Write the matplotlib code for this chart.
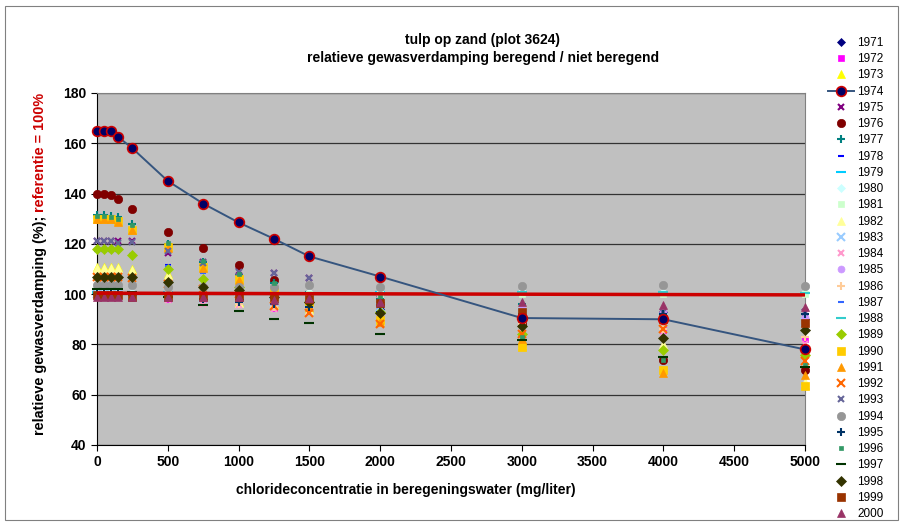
import matplotlib.pyplot as plt
import matplotlib.patches as patch

plt.rcParams['font.family'] = ['Liberation Sans', 'DejaVu Sans']

#------ Data ------------------------------------------------------------------
conc = [0, 50, 100, 150, 250, 500, 750, 1000, 1250, 1500, 2000, 3000, 4000, 5000]

y1971 = [100, 100, 100, 100, 99.5, 99, 98, 98, 97, 96, 94, 91, 93, 90]
y1972 = [99.6, 99.6, 99.6, 99.6, 99, 98, 98, 97, 94.4, 94, 92, 89.2, 85.7, 82]
y1973 = [110.7, 110.7, 110.7, 110.7, 110, 108, 104, 97, 96, 94, 90, 79.5, 79, 64]
y1974 = [165, 165, 165, 162.5, 158, 145, 136, 128.5, 122, 115, 107, 90.5, 90, 78]
y1975 = [121, 121, 121, 121, 121, 116.5, 112.7, 109.2, 108.4, 106.4, 98, 90, 92, 93]
y1976 = [140, 140, 139.5, 138, 134, 124.7, 118.3, 111.5, 105.6, 97, 96, 88, 74, 70]
y1977 = [131.5, 131.5, 131, 130.5, 128, 120, 112.7, 107.6, 104.5, 101, 98, 96, 92, 90]
y1978 = [117, 117, 117, 117, 116, 111.5, 108.8, 106, 102, 99, 94, 89, 90, 100.4]
y1979 = [101, 101, 101, 101, 101, 101, 100.5, 100.5, 100.5, 100.5, 101, 101, 101, 100.6]
y1980 = [101.2, 101.2, 101.2, 101.2, 101, 101, 101, 101, 101, 101, 101, 101.2, 100.8, 101]
y1981 = [100, 100, 100, 100, 100, 100, 100, 100, 100, 100, 100, 100, 100, 100]
y1982 = [110.5, 110.5, 110.5, 110.5, 109.5, 107.5, 103.5, 96.5, 95.5, 93.5, 89.5, 80, 80, 65]
y1983 = [100, 100, 100, 100, 99.5, 99, 98.5, 98, 97, 96.5, 95, 93, 91, 89]
y1984 = [99, 99, 99, 99, 98.5, 97.6, 96, 95.6, 94, 93, 90, 86, 84, 80]
y1985 = [100, 100, 100, 100, 99.5, 99, 98.5, 98, 97.5, 97, 96, 94, 93, 91]
y1986 = [99.5, 99.5, 99.5, 99.5, 99, 98.5, 98, 96, 95, 94, 92, 88, 86, 83]
y1987 = [117, 117, 117, 117, 116, 111, 108.5, 104, 100, 98, 95, 90, 91, 92]
y1988 = [100.5, 100.5, 100.5, 100.5, 100.5, 100.5, 100.5, 100.5, 100.5, 100.5, 100.4, 101, 100.8, 100.4]
y1989 = [118, 118, 118, 118, 115.5, 110, 106, 103, 100, 97, 93, 84, 77.7, 75.7]
y1990 = [130, 130, 130, 129, 125.5, 118.7, 110.8, 106, 101, 97, 89.7, 79, 70, 63.4]
y1991 = [130, 130, 130, 128.5, 125.5, 118.5, 110.5, 105.5, 100, 95, 89, 82, 68.6, 67.8]
y1992 = [107, 107, 107, 107, 106.5, 104, 102, 100, 95.2, 92.4, 88, 84, 86, 73.4]
y1993 = [121, 121, 121, 120.5, 120.7, 117, 112.5, 109, 108.4, 106.4, 97, 90, 92.8, 92.8]
y1994 = [103.5, 103.5, 103.5, 103.5, 103.5, 103, 103, 103, 103, 103.6, 102.8, 103.2, 103.6, 103.2]
y1995 = [100, 100, 100, 100, 99.5, 99, 98, 97, 96, 95, 93, 92, 92, 92]
y1996 = [131, 131, 130.5, 130, 127.5, 120.5, 113, 108, 104.5, 100, 99, 83, 74, 72]
y1997 = [102, 102, 102, 102, 101, 99, 95.6, 93.2, 90, 88.5, 84, 81.7, 75, 71]
y1998 = [107, 107, 107, 107, 107, 104.8, 102.8, 101.6, 99, 97, 92.4, 87.3, 82.5, 85.7]
y1999 = [99.6, 99.6, 99.6, 99.6, 99, 99, 99, 99, 99, 98, 96.4, 92.8, 90, 88.5]
y2000 = [99, 99, 99, 99, 99, 99, 99, 99, 97.6, 98.4, 97, 96.8, 95.6, 95]

# referentie = 100%
ref_x = [0, 5000]
ref_y = [100.4, 99.7]

# year, values, marker, colour, size
series = [
    ("1971", y1971, "D", "#000080", 4),
    ("1972", y1972, "s", "#FF00FF", 5),
    ("1973", y1973, "^", "#FFFF00", 6),
    ("1974", y1974, "o", "#000066", 7),
    ("1975", y1975, "x", "#800080", 5),
    ("1976", y1976, "o", "#800000", 6),
    ("1977", y1977, "+", "#008080", 6),
    ("1978", y1978, "_", "#0000FF", 4),
    ("1979", y1979, "_", "#00CCFF", 7),
    ("1980", y1980, "D", "#CCFFFF", 4),
    ("1981", y1981, "s", "#CCFFCC", 5),
    ("1982", y1982, "^", "#FFFF99", 6),
    ("1983", y1983, "x", "#99CCFF", 6),
    ("1984", y1984, "x", "#FF99CC", 5),
    ("1985", y1985, "o", "#CC99FF", 5),
    ("1986", y1986, "+", "#FFCC99", 6),
    ("1987", y1987, "_", "#3366FF", 4),
    ("1988", y1988, "_", "#33CCCC", 7),
    ("1989", y1989, "D", "#99CC00", 5),
    ("1990", y1990, "s", "#FFCC00", 6),
    ("1991", y1991, "^", "#FF9900", 6),
    ("1992", y1992, "x", "#FF6600", 6),
    ("1993", y1993, "x", "#666699", 5),
    ("1994", y1994, "o", "#969696", 6),
    ("1995", y1995, "+", "#003366", 6),
    ("1996", y1996, "s", "#339966", 3),
    ("1997", y1997, "_", "#003300", 7),
    ("1998", y1998, "D", "#333300", 5),
    ("1999", y1999, "s", "#993300", 6),
    ("2000", y2000, "^", "#993366", 6),
]

#------ Plotting --------------------------------------------------------------
fig = plt.figure(figsize=(9.03, 5.26), dpi=100)
ax = fig.add_axes([97/903, 1 - 445/526, 708/903, 352/526])
ax.set_facecolor("#C0C0C0")

# chart border
fig.patches.append(patch.Rectangle((5/903, 6/526), 893/903, 514/526, transform=fig.transFigure,
                                   fill=False, edgecolor="#808080", linewidth=0.8))

handles = []
for year, vals, mk, col, ms in series:
    if year == "1974":
        h, = ax.plot(conc, vals, "-", marker="o", color="#35557F", lw=1.4, ms=ms,
                     mfc=col, mec="#CC0000", mew=1.2, label=year, zorder=5, clip_on=False)
    else:
        mew = 1.5 if mk in ("x", "+", "_") else 0.5
        h, = ax.plot(conc, vals, ls="none", marker=mk, color=col, ms=ms, mew=mew,
                     mec=col, label=year, zorder=3, clip_on=False)
    handles.append(h)

ax.plot(ref_x, ref_y, "-", c="#CC0000", lw=2.5, zorder=4, label="_nolegend_")

ax.set_xlim(0, 5000)
ax.set_ylim(40, 180)
ax.set_xticks(range(0, 5001, 500))
ax.set_yticks(range(40, 181, 20))
ax.yaxis.grid(True, color="#333333", lw=0.9)
ax.set_axisbelow(True)
for s in ["top", "right"]:
    ax.spines[s].set_color("#808080")
ax.tick_params(labelsize=10, length=4, direction="out")
for lab in ax.get_xticklabels() + ax.get_yticklabels():
    lab.set_fontweight("bold")

fig.text(483/903, 1 - 40/526, "tulp op zand (plot 3624)", ha="center", va="center",
         fontsize=10, fontweight="bold")
fig.text(483/903, 1 - 58/526, "relatieve gewasverdamping beregend / niet beregend", ha="center",
         va="center", fontsize=10, fontweight="bold")
fig.text(406/903, 1 - 490/526, "chlorideconcentratie in beregeningswater (mg/liter)", ha="center",
         va="center", fontsize=10, fontweight="bold")

# y label in two colours: black part, then red part directly after it
ylab = fig.text(40/903, 1 - 435/526, "relatieve gewasverdamping (%); ", rotation=90, ha="center",
                va="bottom", fontsize=10.4, fontweight="bold")
fig.canvas.draw()
bb = ylab.get_window_extent()
fig.text(40/903, bb.y1/fig.bbox.height, "referentie = 100%", rotation=90, ha="center",
         va="bottom", fontsize=10.4, fontweight="bold", color="#CC0000")

fig.legend(handles=handles, loc="upper left", bbox_to_anchor=(822/903, 1 - 31/526), frameon=False,
           fontsize=8.5, labelspacing=0.36, handlelength=2.2, handletextpad=0.3, borderpad=0)

fig.savefig("out.png", dpi=100)
